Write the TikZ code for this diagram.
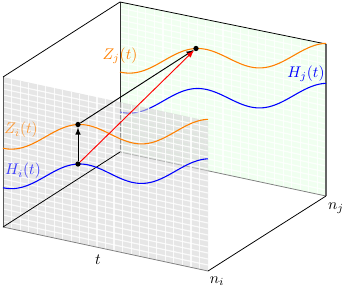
\documentclass[tikz,border=0pt]{standalone}
\begin{document}
\begin{tikzpicture}[x=0.645pt, y=-0.645pt,
  gridline/.style={white, line width=0.75pt, opacity=0.85},
  dot/.style={circle, fill=black, inner sep=0pt, minimum size=3.4pt},
  wave/.style={line width=0.7pt, samples=90}]
  \useasboundingbox (0,0) rectangle (344,288);
  % corners of the box
  \coordinate (fbl) at (3,227); \coordinate (ftl) at (3,77);
  \coordinate (fbr) at (208,271); \coordinate (ftr) at (208,121);
  \coordinate (bbl) at (120,152); \coordinate (btl) at (120,2);
  \coordinate (bbr) at (326,196); \coordinate (btr) at (326,44);
  % back plane
  \fill[green!6] (bbl) -- (btl) -- (btr) -- (bbr) -- cycle;
  \foreach \k in {1,...,23} \draw[gridline] ({120+\k*8.583},{152+\k*1.833}) -- ++(0,-150);
  \foreach \k in {1,...,24} \draw[gridline] (120,{152-\k*6}) -- ++(206,44);
  \draw[black!80, line width=0.6pt] (btl) -- (bbl);
  \draw[gray, line width=0.5pt] (bbl) -- (bbr);
  \draw[gray!80!black, line width=1.2pt] (bbr) -- (btr);
  \draw[line width=0.5pt] (btl) -- (btr);
  \draw[orange, wave] plot[domain=120:326] (\x,{59.5-0.04*(\x-196)-11*cos(2.7692*(\x-196))});
  \draw[blue, wave] plot[domain=120:326] (\x,{99.5-0.04*(\x-196)-11*cos(2.7692*(\x-196))});
  \node[orange] (zjlab) at (120,56) {$Z_j(t)$};
  \node[blue] (hjlab) at (306,74) {$H_j(t)$};
  % front plane
  \fill[gray!33, fill opacity=0.6] (fbl) -- (ftl) -- (ftr) -- (fbr) -- cycle;
  \foreach \k in {1,...,23} \draw[gridline] ({3+\k*8.542},{227+\k*1.833}) -- ++(0,-150);
  \foreach \k in {1,...,24} \draw[gridline] (3,{227-\k*6}) -- ++(205,44);
  \node[orange, text opacity=0.75] (zilab) at (21,130) {$Z_i(t)$};
  \node[blue, text opacity=0.75] (hilab) at (23,171) {$H_i(t)$};
  \draw[gray!70!black, line width=0.6pt] (fbl) -- (ftl);
  \draw[gray, line width=0.5pt] (fbl) -- (fbr);
  \draw[line width=0.5pt] (ftl) -- (btl);
  \draw[line width=0.5pt] (fbl) -- (bbl);
  \draw[line width=0.5pt] (fbr) -- (bbr);
  \draw[orange, wave] plot[domain=3:208] (\x,{135.5-0.04*(\x-78)-11*cos(2.7692*(\x-78))});
  \draw[blue, wave] plot[domain=3:208] (\x,{175-0.04*(\x-78)-11*cos(2.7692*(\x-78))});
  % points and arrows
  \node[dot] (zi) at (78,124.5) {};
  \node[dot] (hi) at (78,164) {};
  \node[dot] (zj) at (196,48.5) {};
  \draw[-latex, line width=0.6pt] (hi) -- (zi);
  \draw[-latex, line width=0.6pt] (zi) -- (zj);
  \draw[-latex, red, line width=0.6pt] (hi) -- (zj);
  \node (tlab) at (98,260) {$t$};
  \node (nilab) at (217,281) {$n_i$};
  \node (njlab) at (336,208) {$n_j$};
\end{tikzpicture}
\end{document}
